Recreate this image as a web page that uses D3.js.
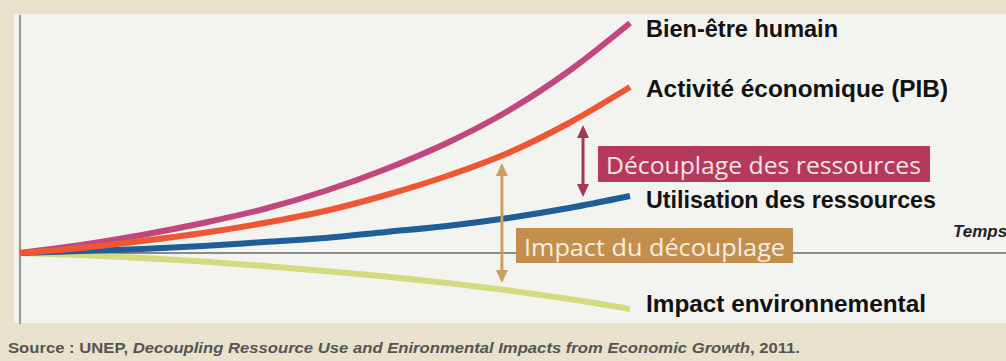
<!DOCTYPE html>
<html lang="fr">
<head>
<meta charset="utf-8">
<script src="https://cdn.jsdelivr.net/npm/d3@7/dist/d3.min.js"></script>
<style>
  html, body { margin: 0; padding: 0; background: #e8e2cd; }
  svg { display: block; }
</style>
</head>
<body>
<svg id="chart" width="1006" height="361"></svg>
<script>
// Time steps (arbitrary units) and index values (start = 100)
const steps = [0, 1, 2, 3, 4, 5, 6, 7, 8, 9, 10];
const bienEtre     = [100, 104, 109, 115, 122, 131, 142, 155, 171, 191, 215];
const activite     = [100, 102.5, 106, 110, 115, 121, 129, 138.5, 150, 165, 183];
const utilisation  = [100, 101, 102, 103.5, 105.5, 107.5, 110.5, 113.5, 117.5, 122.5, 128.5];
const impactEnv    = [100, 99, 97.5, 95.7, 93.5, 91, 88.2, 85, 81.3, 77, 72];

const seriesNames  = ["Impact environnemental", "Utilisation des ressources", "Bien-être humain", "Activité économique (PIB)"];
const seriesColors = ["#d4da80", "#1f5e98", "#c2477f", "#ee5634"];
const seriesValues = [impactEnv, utilisation, bienEtre, activite];

// Double arrows: position in time, upper and lower index
const arrowSteps  = [7.9, 9.23];
const arrowTop    = [145, 164];
const arrowBottom = [85, 128];
const arrowColors = ["#c9a05e", "#a3375a"];

const svg = d3.select("#chart");

// plot panel
svg.append("rect").attr("x", 14).attr("y", 14).attr("width", 992).attr("height", 309)
  .attr("fill", "#f3f3ef");

const x = d3.scaleLinear().domain([0, 10]).range([20, 630]);
const y = d3.scaleLinear().domain([60, 220]).range([333, 13]);

// vertical axis
svg.append("line").attr("x1", 20).attr("x2", 20).attr("y1", 15).attr("y2", 324)
  .attr("stroke", "#9a9a96").attr("stroke-width", 2.2);

// time axis (baseline at index 100)
svg.append("line").attr("x1", 20).attr("x2", 1006).attr("y1", y(100)).attr("y2", y(100))
  .attr("stroke", "#8b8b8b").attr("stroke-width", 2.2);

const line = d3.line()
  .x((d, i) => x(steps[i]))
  .y(d => y(d))
  .curve(d3.curveMonotoneX);

svg.append("g").selectAll("path")
  .data(seriesValues)
  .join("path")
  .attr("d", d => line(d))
  .attr("fill", "none")
  .attr("stroke", (d, i) => seriesColors[i])
  .attr("stroke-width", 6)
  .attr("stroke-linecap", "butt");

// double-headed arrows
const arrows = svg.append("g");
arrowSteps.forEach((t, i) => {
  const ax = x(t), y1 = y(arrowTop[i]), y2 = y(arrowBottom[i]);
  const c = arrowColors[i];
  const hw = 6, hh = 13;
  arrows.append("line").attr("x1", ax).attr("x2", ax)
    .attr("y1", y1 + hh - 2).attr("y2", y2 - hh + 2)
    .attr("stroke", c).attr("stroke-width", 3);
  arrows.append("path")
    .attr("d", `M${ax},${y1} L${ax + hw},${y1 + hh} L${ax - hw},${y1 + hh} Z`)
    .attr("fill", c);
  arrows.append("path")
    .attr("d", `M${ax},${y2} L${ax + hw},${y2 - hh} L${ax - hw},${y2 - hh} Z`)
    .attr("fill", c);
});

// boxed annotations
const boxes = [
  { text: "Découplage des ressources", x: 598, y: 146, w: 332, h: 36, fill: "#b5395a", color: "#f7e4e9", tx: 606, tl: 315, ty: 174 },
  { text: "Impact du découplage",     x: 516, y: 228, w: 277, h: 35, fill: "#c48e4d", color: "#f8eee0", tx: 524, tl: 261, ty: 256 }
];
boxes.forEach(b => {
  svg.append("rect").attr("x", b.x).attr("y", b.y).attr("width", b.w).attr("height", b.h)
    .attr("fill", b.fill);
  svg.append("text").attr("x", b.tx).attr("y", b.ty)
    .attr("font-family", "'Open Sans', 'DejaVu Sans', sans-serif")
    .attr("font-size", 23).attr("fill", b.color)
    .attr("textLength", b.tl).attr("lengthAdjust", "spacingAndGlyphs")
    .text(b.text);
});

// series labels at the end of the curves
const labels = [
  { text: "Bien-être humain",           y: 37,  len: 192 },
  { text: "Activité économique (PIB)",  y: 97,  len: 302 },
  { text: "Utilisation des ressources", y: 208, len: 290 },
  { text: "Impact environnemental",     y: 312, len: 280 }
];
svg.append("g").selectAll("text")
  .data(labels)
  .join("text")
  .attr("x", x(10) + 16)
  .attr("y", d => d.y)
  .attr("font-family", "'Liberation Sans', Arial, sans-serif")
  .attr("font-weight", "bold")
  .attr("font-size", 24)
  .attr("fill", "#111")
  .attr("textLength", d => d.len)
  .attr("lengthAdjust", "spacingAndGlyphs")
  .text(d => d.text);

// axis title
svg.append("text").attr("x", 953).attr("y", 237)
  .attr("font-family", "'Liberation Sans', Arial, sans-serif")
  .attr("font-style", "italic").attr("font-weight", "bold")
  .attr("font-size", 17).attr("fill", "#222")
  .text("Temps");

// source line
const src = svg.append("text").attr("x", 8).attr("y", 353)
  .attr("font-family", "'Liberation Sans', Arial, sans-serif")
  .attr("font-weight", "bold").attr("font-size", 14.5).attr("fill", "#555")
  .attr("textLength", 792).attr("lengthAdjust", "spacingAndGlyphs");
src.append("tspan").text("Source : UNEP, ");
src.append("tspan").attr("font-style", "italic")
  .text("Decoupling Ressource Use and Enironmental Impacts from Economic Growth");
src.append("tspan").text(", 2011.");
</script>
</body>
</html>
